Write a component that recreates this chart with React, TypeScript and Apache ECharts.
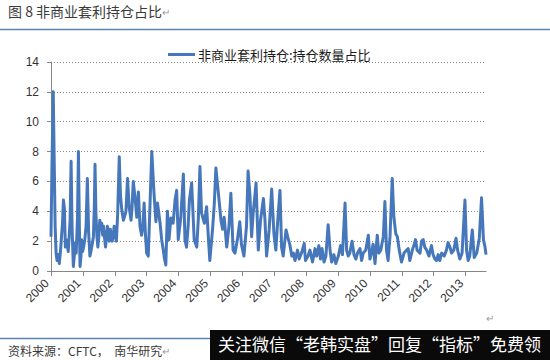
import React, { useEffect, useRef } from "react";
import * as echarts from "echarts";

const titleText = "图 8 非商业套利持仓占比";
const seriesName = "非商业套利持仓:持仓数量占比";
const sourceText = "资料来源：CFTC，  南华研究";
const bannerText = "关注微信“老韩实盘”回复“指标”免费领";

const yearTicks = [2000, 2001, 2002, 2003, 2004, 2005, 2006, 2007, 2008, 2009, 2010, 2011, 2012, 2013];

// time offsets (years after 2000) of each observation
const yearOffset = [
  0.00, 0.03, 0.07, 0.10, 0.13, 0.16, 0.19, 0.22, 0.26, 0.30, 0.33, 0.36, 0.39, 0.42, 0.45, 0.48, 0.51, 0.54, 0.57, 0.60,
  0.63, 0.66, 0.70, 0.73, 0.76, 0.79, 0.83, 0.86, 0.89, 0.91, 0.94, 0.96, 0.99,
  1.03, 1.06, 1.10, 1.14, 1.18, 1.22, 1.26, 1.30, 1.33, 1.36, 1.38, 1.41, 1.44, 1.47, 1.50, 1.53, 1.56, 1.59, 1.62,
  1.65, 1.68, 1.71, 1.74, 1.77, 1.80, 1.83, 1.86, 1.89, 1.92, 1.95, 1.98,
  2.01, 2.05, 2.09, 2.14, 2.18, 2.22, 2.27, 2.30, 2.35, 2.40, 2.45, 2.51, 2.54, 2.58, 2.63, 2.69, 2.74, 2.79, 2.84,
  2.88, 2.92, 2.96,
  3.00, 3.05, 3.09, 3.16, 3.23, 3.29, 3.34, 3.42, 3.47, 3.52, 3.56, 3.60, 3.65, 3.70, 3.76, 3.83, 3.89, 3.94, 3.99,
  4.07, 4.15, 4.20, 4.25, 4.30, 4.34, 4.41, 4.49, 4.57, 4.62, 4.67, 4.72, 4.81, 4.88, 4.93, 4.98,
  5.07, 5.12, 5.17, 5.24, 5.33, 5.38, 5.43, 5.51, 5.58, 5.64, 5.71, 5.77, 5.85, 5.92, 5.97,
  6.05, 6.13, 6.18, 6.24, 6.29, 6.34, 6.40, 6.43, 6.50, 6.57, 6.66, 6.71, 6.76, 6.84, 6.92, 6.99,
  7.05, 7.11, 7.18, 7.23, 7.28, 7.37, 7.42, 7.49, 7.55, 7.60, 7.65, 7.73, 7.78, 7.87, 7.94, 7.98,
  8.06, 8.12, 8.20, 8.28, 8.33, 8.40, 8.45, 8.50, 8.56, 8.62, 8.69, 8.75, 8.80, 8.87, 8.93,
  9.01, 9.08, 9.14, 9.22, 9.27, 9.32, 9.37, 9.44, 9.50, 9.56, 9.61, 9.69, 9.74, 9.79, 9.87, 9.95,
  10.00, 10.05, 10.10, 10.16, 10.23, 10.28, 10.34, 10.42, 10.47, 10.52, 10.57, 10.63, 10.70, 10.75, 10.81, 10.86, 10.92, 10.99,
  11.07, 11.15, 11.20, 11.25, 11.33, 11.39, 11.43, 11.48, 11.57, 11.62, 11.67, 11.72, 11.78, 11.85, 11.93, 11.98,
  12.04, 12.09, 12.14, 12.19, 12.25, 12.33, 12.40, 12.45, 12.51, 12.56, 12.63, 12.70, 12.75, 12.82, 12.89, 12.98,
  13.03, 13.08, 13.13, 13.21, 13.27, 13.35, 13.43, 13.50, 13.56, 13.61, 13.64,
];

// 非商业套利持仓占比 (%)
const ratio = [
  2.3, 7.0, 12.0, 7.5, 3.0, 1.2, 0.7, 1.1, 0.5, 1.4, 2.3, 3.2, 4.75, 4.2, 1.6, 2.1, 1.8, 1.3, 2.3, 3.5,
  7.35, 3.0, 0.3, 1.0, 1.9, 1.2, 3.5, 8.0, 3.0, 0.3, 1.0, 2.1, 1.3,
  1.7, 2.1, 3.0, 6.2, 2.6, 1.0, 1.4, 1.9, 2.3, 4.5, 7.15, 3.8, 2.3, 1.6, 2.3, 3.4, 2.8, 3.2, 2.4,
  3.0, 2.2, 1.6, 2.2, 3.0, 2.4, 2.0, 2.8, 2.4, 2.0, 2.3, 3.0,
  2.4, 2.0, 3.8, 7.65, 5.0, 4.1, 3.4, 3.6, 4.0, 6.2, 4.3, 3.4, 4.2, 6.0, 5.0, 3.6, 5.3, 3.0, 2.4,
  3.0, 4.55, 2.5,
  1.2, 1.0, 3.5, 8.0, 5.2, 3.3, 4.55, 3.2, 2.1, 1.4, 0.8, 0.4, 4.0, 2.1, 3.55, 3.2, 4.75, 5.4, 2.1,
  3.6, 6.5, 2.1, 1.6, 3.0, 4.75, 5.9, 2.1, 1.6, 3.5, 7.0, 3.9, 3.2, 4.3, 2.4, 0.7,
  2.9, 4.5, 6.9, 5.4, 3.4, 2.8, 3.6, 1.6, 3.0, 5.2, 1.4, 1.2, 2.2, 3.3, 1.8,
  1.0, 3.0, 6.7, 5.0, 2.3, 3.9, 5.2, 5.9, 1.4, 3.4, 4.85, 3.4, 1.0, 2.75, 5.5, 2.5,
  1.4, 3.4, 5.4, 1.6, 1.0, 2.75, 2.3, 1.75, 1.0, 1.2, 0.7, 1.4, 0.8, 1.3, 1.85, 0.7,
  1.0, 1.4, 0.6, 1.5, 1.0, 1.7, 0.8, 1.5, 0.6, 1.0, 3.1, 1.4, 0.6, 1.1, 0.5,
  1.0, 1.7, 1.1, 4.55, 1.4, 1.0, 1.2, 2.0, 1.1, 0.8, 1.2, 1.5, 0.7, 1.2, 1.4, 2.4,
  0.8, 1.2, 1.8, 0.5, 2.4, 1.2, 1.4, 2.3, 4.65, 1.4, 0.7, 2.3, 6.2, 3.65, 2.5, 2.3, 1.4, 0.6,
  1.2, 1.4, 1.5, 0.7, 1.4, 1.8, 2.1, 1.4, 1.2, 2.0, 2.1, 1.6, 1.4, 1.0, 1.7, 1.1,
  0.8, 0.7, 1.1, 0.7, 1.2, 1.0, 1.4, 1.9, 1.6, 1.2, 1.4, 2.2, 1.4, 0.8, 1.2, 4.75,
  1.4, 0.7, 1.0, 2.75, 0.9, 1.2, 2.2, 4.9, 2.1, 1.6, 1.1,
];

const CJK = '"Noto Sans CJK SC", "Noto Sans", sans-serif';
const NUM = "Liberation Sans, Arial, sans-serif";

export default function App() {
  const ref = useRef<HTMLDivElement>(null);
  useEffect(() => {
    document.body.style.margin = "0";
    if (!ref.current) return;
    const chart = echarts.init(ref.current, undefined, { renderer: "svg" });
    const data = yearOffset.map((o, i) => [yearTicks[0] + o, ratio[i]]);
    chart.setOption({
      animation: false,
      backgroundColor: "#ffffff",
      textStyle: { fontFamily: CJK },
      grid: { left: 51, top: 62, width: 435, height: 209, containLabel: false },
      legend: {
        top: 43,
        left: 163,
        itemWidth: 27,
        itemHeight: 3,
        icon: "rect",
        itemGap: 4,
        textStyle: { fontSize: 13, color: "#1a1a1a", fontFamily: CJK, padding: [0, 0, 0, -2] },
        data: [seriesName],
      },
      xAxis: {
        type: "value",
        min: 2000,
        max: 2000 + yearOffset[yearOffset.length - 1],
        interval: 1,
        splitLine: { show: false },
        axisLine: { show: true, lineStyle: { color: "#868686", width: 1 } },
        axisTick: { show: true, length: 5, lineStyle: { color: "#868686" }, customValues: yearTicks },
        axisLabel: {
          customValues: yearTicks,
          rotate: 45,
          margin: 6,
          padding: [24, 6, 0, 0],
          fontSize: 12,
          color: "#333",
          fontFamily: NUM,
          formatter: (v: number) => String(Math.round(v)),
        },
      },
      yAxis: {
        type: "value",
        min: 0,
        max: 14,
        interval: 2,
        axisLine: { show: true, lineStyle: { color: "#868686", width: 1 } },
        axisTick: { show: true, length: 4, lineStyle: { color: "#868686" } },
        axisLabel: { fontSize: 12, color: "#333", margin: 12, fontFamily: NUM },
        splitLine: { show: true, lineStyle: { type: [1, 2], color: "#8a8a8a", width: 1 } },
      },
      series: [
        {
          name: seriesName,
          type: "line",
          data,
          symbol: "none",
          smooth: false,
          lineStyle: { color: "#4677BA", width: 3, join: "round" },
          itemStyle: { color: "#4677BA" },
        },
      ],
      graphic: [
        {
          type: "text",
          left: 8,
          top: 4,
          style: {
            text: "{a|" + titleText + "}{b|↵}",
            rich: {
              a: { fontSize: 14, fill: "#3a3a3a", fontFamily: CJK },
              b: { fontSize: 10, fill: "#999", fontFamily: CJK },
            },
          },
        },
        {
          type: "line",
          shape: { x1: 0, y1: 29.5, x2: 550, y2: 29.5 },
          style: { stroke: "#5c84b1", lineWidth: 1.5 },
        },
        {
          type: "text",
          left: 486,
          top: 312,
          style: { text: "↵", fontSize: 10, fill: "#999", fontFamily: CJK },
        },
        {
          type: "line",
          shape: { x1: 0, y1: 338.5, x2: 215, y2: 338.5 },
          style: { stroke: "#5c84b1", lineWidth: 1.5 },
        },
        {
          type: "text",
          left: 8,
          top: 344,
          style: {
            text: "{a|" + sourceText + "}{b|↵}",
            rich: {
              a: { fontSize: 12, fill: "#3a3a3a", fontFamily: CJK },
              b: { fontSize: 10, fill: "#999", fontFamily: CJK },
            },
          },
        },
        {
          type: "rect",
          shape: { x: 210, y: 330, width: 340, height: 30 },
          style: { fill: "#0a0a0a" },
        },
        {
          type: "text",
          left: 218,
          top: 335,
          style: { text: bannerText, fontSize: 17, fill: "#ffffff", fontFamily: CJK },
        },
      ],
    });
    return () => chart.dispose();
  }, []);
  return <div ref={ref} style={{ width: 550, height: 360 }} />;
}
